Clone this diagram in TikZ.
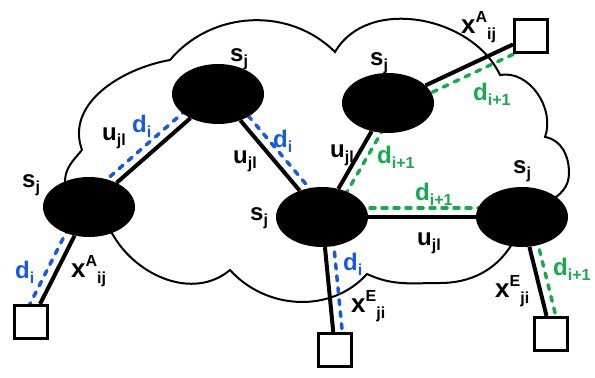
\documentclass[tikz,border=0pt]{standalone}
\usepackage{fontspec}
\setmainfont{Liberation Sans}
\usetikzlibrary{calc,backgrounds,shapes.geometric}
\definecolor{dblue}{RGB}{22,90,224}
\definecolor{dgreen}{RGB}{22,170,80}
\newcommand{\subsz}{\fontsize{16bp}{16bp}\selectfont}
\newcommand{\supsz}{\fontsize{16bp}{16bp}\selectfont}
\newcommand{\lbl}[2]{#1\raisebox{-5bp}{\subsz #2}}
\newcommand{\lblx}[3]{{\fontsize{26bp}{28bp}\selectfont #1}\raisebox{11bp}{\supsz #2}\raisebox{-6bp}{\supsz #3}}
\newcommand{\offln}[3]{\draw[#1] ($(#2)!9bp!90:(#3)$) -- ($(#3)!9bp!-90:(#2)$);}
\begin{document}
\begin{tikzpicture}[x=1bp,y=1bp,
  font=\fontsize{24bp}{28bp}\selectfont\bfseries,
  sn/.style={ellipse, fill=black, minimum width=92bp, minimum height=60bp, inner sep=0pt},
  sq/.style={draw, line width=3bp, fill=white, minimum size=33bp, inner sep=0pt},
  lab/.style={anchor=base west, inner sep=0pt},
  link/.style={line width=4bp},
  bdash/.style={dblue, line width=3.5bp, dash pattern=on 5bp off 7bp, line cap=round},
  gdash/.style={dgreen, line width=3.5bp, dash pattern=on 5bp off 7bp, line cap=round},
  cloudline/.style={line width=2bp}]
\useasboundingbox (0,0) rectangle (595,377);
% nodes
\node[sn] (e1) at (89,170) {};
\node[sn] (e2) at (218,283) {};
\node[sn] (e3) at (388,274) {};
\node[sn] (e4) at (322,160) {};
\node[sn] (e5) at (522,160) {};
\node[sq] (sql) at (31,55) {};
\node[sq] (sqbm) at (335,27) {};
\node[sq] (sqbr) at (551,43) {};
\node[sq] (sqtr) at (531,341) {};
\begin{scope}[on background layer]
\draw[cloudline] (82,227) to[out=110,in=190] (170,317) to[out=50,in=135] (335,325)
  to[out=60,in=115] (500,302) to[out=10,in=70] (545,240) to[out=-10,in=90] (569,204)
  to[out=-90,in=60] (520,150) to[out=-110,in=0] (440,94) to[out=180,in=-25] (367,103)
  to[out=-132,in=-48] (230,107) to[out=-140,in=-60] (113,142) to[out=120,in=-90] (65,195)
  to[out=90,in=230] (82,227);
\draw[link] (e1) -- (e2);
\draw[link] (e2) -- (e4);
\draw[link] (e1) -- (sql);
\draw[link] (e3) -- (e4);
\draw[link] (e3) -- (sqtr);
\draw[link] (e4) -- (e5);
\draw[link] (e4) -- (sqbm);
\draw[link] (e5) -- (sqbr);
\offln{bdash}{e1}{e2}
\offln{bdash}{e2}{e4}
\offln{bdash}{sql}{e1}
\offln{gdash}{e3}{e4}
\offln{gdash}{sqtr}{e3}
\offln{gdash}{e4}{e5}
\offln{bdash}{e4}{sqbm}
\offln{gdash}{e5}{sqbr}
\end{scope}
% labels
\node[lab] (l1) at (230,316) {\lbl{s}{j}};
\node[lab] (l2) at (22,190) {\lbl{s}{j}};
\node[lab] (l3) at (370,312) {\lbl{s}{j}};
\node[lab] (l4) at (250,157) {\lbl{s}{j}};
\node[lab] (l5) at (513,204) {\lbl{s}{j}};
\node[lab] (l6) at (102,237) {\lbl{u}{jl}};
\node[lab,dblue] (l7) at (132,245) {\lbl{d}{i}};
\node[lab] (l8) at (233,214) {\lbl{u}{jl}};
\node[lab,dblue] (l9) at (273,230) {\lbl{d}{i}};
\node[lab] (l10) at (330,220) {\lbl{u}{jl}};
\node[lab,dgreen] (l11) at (377,214) {\lbl{d}{i+1}};
\node[lab,dgreen] (l12) at (473,277) {\lbl{d}{i+1}};
\node[lab] (l13) at (461,344) {\lblx{x}{A}{ij}};
\node[lab,dgreen] (l14) at (415,177) {\lbl{d}{i+1}};
\node[lab] (l15) at (417,132) {\lbl{u}{jl}};
\node[lab,dblue] (l16) at (343,107) {\lbl{d}{i}};
\node[lab] (l17) at (351,65) {\lblx{x}{E}{ji}};
\node[lab] (l18) at (495,80) {\lblx{x}{E}{ji}};
\node[lab,dgreen] (l19) at (553,102) {\lbl{d}{i+1}};
\node[lab,dblue] (l20) at (15,99) {\lbl{d}{i}};
\node[lab] (l21) at (71,100) {\lblx{x}{A}{ij}};
\end{tikzpicture}
\end{document}
